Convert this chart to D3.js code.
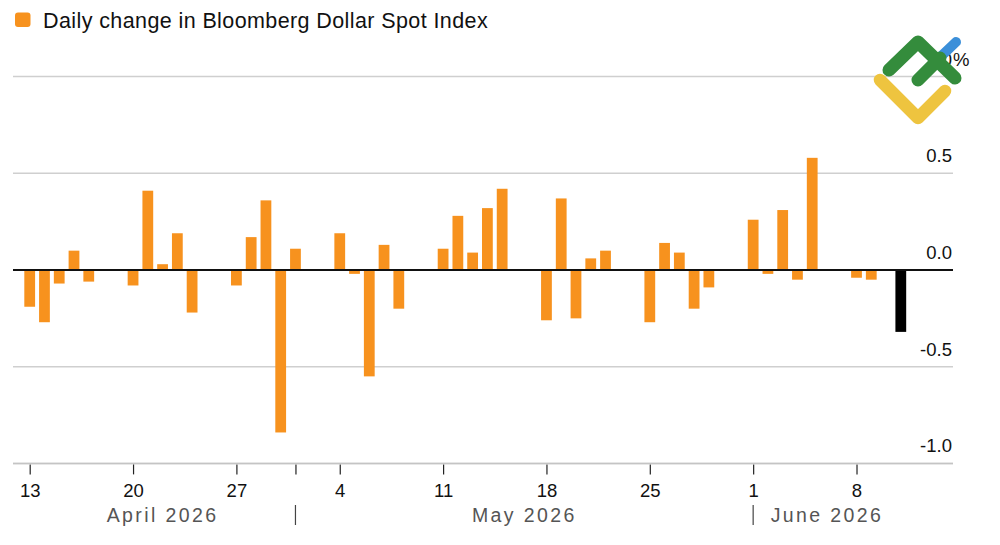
<!DOCTYPE html>
<html>
<head>
<meta charset="utf-8">
<script src="https://cdn.jsdelivr.net/npm/d3@7"></script>
<style>
  html, body { margin: 0; padding: 0; background: #fff; }
  svg { display: block; font-family: "Liberation Sans", Arial, Helvetica, sans-serif; }
</style>
</head>
<body>
<svg id="chart" width="1000" height="545"></svg>
<script>
// ---- data ----
const dates = [
  "2026-04-13","2026-04-14","2026-04-15","2026-04-16","2026-04-17",
  "2026-04-20","2026-04-21","2026-04-22","2026-04-23","2026-04-24",
  "2026-04-27","2026-04-28","2026-04-29","2026-04-30","2026-05-01",
  "2026-05-04","2026-05-05","2026-05-06","2026-05-07","2026-05-08",
  "2026-05-11","2026-05-12","2026-05-13","2026-05-14","2026-05-15",
  "2026-05-18","2026-05-19","2026-05-20","2026-05-21","2026-05-22",
  "2026-05-25","2026-05-26","2026-05-27","2026-05-28","2026-05-29",
  "2026-06-01","2026-06-02","2026-06-03","2026-06-04","2026-06-05",
  "2026-06-08","2026-06-09","2026-06-11"
];
const values = [
  -0.19, -0.27, -0.07, 0.10, -0.06,
  -0.08, 0.41, 0.03, 0.19, -0.22,
  -0.08, 0.17, 0.36, -0.84, 0.11,
  0.19, -0.02, -0.55, 0.13, -0.20,
  0.11, 0.28, 0.09, 0.32, 0.42,
  -0.26, 0.37, -0.25, 0.06, 0.10,
  -0.27, 0.14, 0.09, -0.20, -0.09,
  0.26, -0.02, 0.31, -0.05, 0.58,
  -0.04, -0.05, -0.32
];
const highlightDate = "2026-06-11";
const yTicks = [1.0, 0.5, 0.0, -0.5, -1.0];
const weekTicks = ["2026-04-13","2026-04-20","2026-04-27","2026-05-04","2026-05-11","2026-05-18","2026-05-25","2026-06-01","2026-06-08"];
const monthStarts = ["2026-05-01","2026-06-01"];
const months = [
  {label: "April 2026", from: "2026-04-13", to: "2026-05-01"},
  {label: "May 2026", from: "2026-05-01", to: "2026-06-01"},
  {label: "June 2026", from: "2026-06-01", to: "2026-06-11"}
];
const legendLabel = "Daily change in Bloomberg Dollar Spot Index";

// ---- setup ----
const svg = d3.select("#chart");
const parse = d3.utcParse("%Y-%m-%d");
const data = dates.map((d, i) => ({date: parse(d), key: d, value: values[i]}));

const x = d3.scaleUtc()
  .domain([parse("2026-04-13"), parse("2026-06-11")])
  .range([29.7, 900.8]);
const y = d3.scaleLinear().domain([-1, 1]).range([463.4, 76.6]);

const gridLeft = 13, gridRight = 953;
const dayW = x(parse("2026-04-14")) - x(parse("2026-04-13"));
const barW = dayW * 0.73;

// gridlines
svg.append("g").selectAll("line")
  .data(yTicks.filter(v => v !== 0))
  .join("line")
  .attr("x1", gridLeft).attr("x2", gridRight)
  .attr("y1", d => y(d)).attr("y2", d => y(d))
  .attr("stroke", "#cfcfcf").attr("stroke-width", 1.5);

// y labels (right)
const yl = svg.append("g");
yl.selectAll("text")
  .data(yTicks)
  .join("text")
  .attr("x", 952)
  .attr("y", d => y(d) - 11)
  .attr("text-anchor", "end")
  .attr("font-size", 18.5)
  .attr("fill", "#111")
  .text(d => d.toFixed(1));
yl.append("text")
  .attr("x", 953).attr("y", y(1) - 11)
  .attr("font-size", 18.5).attr("fill", "#111")
  .text("%");

// bars
svg.append("g").selectAll("rect")
  .data(data)
  .join("rect")
  .attr("x", d => x(d.date) - barW / 2)
  .attr("width", barW)
  .attr("y", d => Math.min(y(d.value), y(0)))
  .attr("height", d => Math.abs(y(d.value) - y(0)))
  .attr("fill", d => d.key === highlightDate ? "#000" : "#f7921e");

// zero line
svg.append("line")
  .attr("x1", gridLeft).attr("x2", gridRight)
  .attr("y1", y(0)).attr("y2", y(0))
  .attr("stroke", "#111").attr("stroke-width", 2);

// x axis
const xAxis = d3.axisBottom(x)
  .tickValues(weekTicks.map(parse).concat([parse(monthStarts[0])]))
  .tickFormat(d => monthStarts[0] === d3.utcFormat("%Y-%m-%d")(d) ? "" : d3.utcFormat("%-d")(d))
  .tickSize(10)
  .tickPadding(9);
const gx = svg.append("g")
  .attr("transform", `translate(0,${y(-1) + 1})`)
  .call(xAxis);
gx.select(".domain").remove();
gx.selectAll(".tick line").attr("stroke", "#222").attr("stroke-width", 1.2);
gx.selectAll(".tick text")
  .attr("font-size", 18.5).attr("fill", "#111")
  .attr("font-family", "Liberation Sans, Arial, sans-serif");
svg.append("line")
  .attr("x1", gridLeft).attr("x2", gridRight)
  .attr("y1", y(-1)).attr("y2", y(-1))
  .attr("stroke", "#c4c4c4").attr("stroke-width", 1.5);

// month separators
svg.append("g").selectAll("line")
  .data(monthStarts)
  .join("line")
  .attr("x1", d => x(parse(d))).attr("x2", d => x(parse(d)))
  .attr("y1", 505).attr("y2", 525)
  .attr("stroke", "#444").attr("stroke-width", 1.2);

// month labels
svg.append("g").selectAll("text")
  .data(months)
  .join("text")
  .attr("x", d => (x(parse(d.from)) + x(parse(d.to))) / 2)
  .attr("y", 521.5)
  .attr("text-anchor", "middle")
  .attr("font-size", 19.5)
  .attr("letter-spacing", 2.4)
  .attr("fill", "#555")
  .text(d => d.label);

// legend
svg.append("rect")
  .attr("x", 15).attr("y", 12.5).attr("width", 15.5).attr("height", 14.5)
  .attr("rx", 3).attr("fill", "#f7921e");
svg.append("text")
  .attr("x", 43).attr("y", 28)
  .attr("font-size", 21.5).attr("letter-spacing", 0.4).attr("fill", "#111")
  .text(legendLabel);

// logo watermark
const logo = svg.append("g").attr("fill", "none").attr("stroke-linecap", "round").attr("stroke-linejoin", "round");
logo.append("path").attr("d", "M880,80 L918,118 L945,91").attr("stroke", "#eec43f").attr("stroke-width", 12.5);
logo.append("path").attr("d", "M936,61 L956,42").attr("stroke", "#3b8fd9").attr("stroke-width", 10);
logo.append("path").attr("d", "M889,70 L918,42 L955,78").attr("stroke", "#348c3c").attr("stroke-width", 13);
logo.append("path").attr("d", "M918,80 L940,58").attr("stroke", "#348c3c").attr("stroke-width", 13);
</script>
</body>
</html>
